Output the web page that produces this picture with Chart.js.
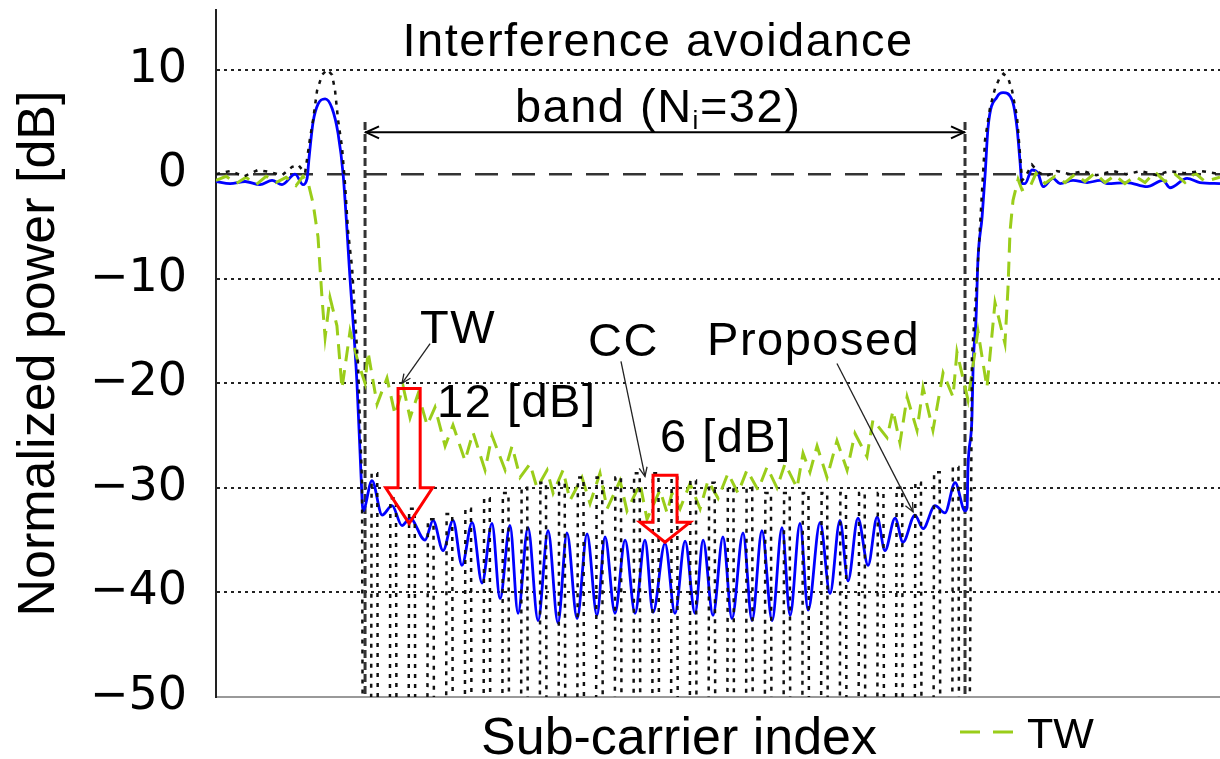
<!DOCTYPE html>
<html>
<head>
<meta charset="utf-8">
<script src="https://cdn.jsdelivr.net/npm/chart.js@4.4.1/dist/chart.umd.min.js"></script>
<style>
  html, body { margin: 0; padding: 0; background: #fff; }
  canvas { display: block; }
</style>
</head>
<body>
<canvas id="psd" width="1220" height="759"></canvas>
<script>
// sub-carrier index (0..32 = avoidance band), normalized power in dB
const proposed = [
  [-7.95,-0.7],[-7.2,-0.9],[-6.4,-0.7],[-5.6,-1.0],[-4.96,-0.6],[-4.43,-1.0],[-3.73,0.0],[-3.31,-1.0],
  [-3.09,-0.4],[-2.99,1.5],[-2.77,5.0],[-2.51,6.7],[-2.13,7.2],[-1.76,6.3],[-1.44,3.9],[-1.17,0],
  [-0.8,-10],[-0.43,-20],[-0.21,-29],[-0.11,-32.2],[0.37,-29.3],[0.91,-32.6],[1.44,-31.7],[1.97,-33.6],
  [2.4,-32.9],[3.2,-35],[3.63,-33.1],[4.16,-36],[4.69,-33.1],[5.17,-37.4],[5.71,-33.3],[6.24,-39.1],
  [6.77,-33.4],[7.2,-40.6],[7.73,-33.6],[8.16,-42],[8.69,-33.8],[9.23,-42.7],[9.76,-34.1],[10.29,-42.9],
  [10.77,-34.3],[11.31,-42.5],[11.84,-34.4],[12.37,-42.2],[12.8,-34.7],[13.33,-42],[13.87,-35],[14.4,-42],
  [14.93,-35],[15.36,-41.9],[16.0,-35.3],[16.53,-42],[17.07,-35.1],[17.6,-42],[18.03,-35],[18.56,-42.2],
  [19.09,-34.7],[19.57,-42.5],[20.16,-34.3],[20.64,-42.7],[21.17,-34.1],[21.71,-42.7],[22.24,-33.8],[22.67,-42.2],
  [23.2,-33.4],[23.63,-41.7],[24.27,-33.3],[24.8,-40.1],[25.33,-33.1],[25.76,-38.9],[26.29,-32.9],[26.83,-37.4],
  [27.31,-32.8],[27.73,-36],[28.27,-32.9],[28.69,-35.2],[29.33,-32.6],[29.76,-33.9],[30.4,-31.7],[30.93,-32.4],
  [31.47,-29.5],[32.0,-32.2],[32.11,-31.9],[32.16,-28],[32.37,-23.3],[32.43,-18.5],[32.59,-13.7],[32.69,-8.2],
  [32.91,-4.1],[33.07,-0.1],[33.23,4.5],[33.71,7.4],[34.03,7.8],[34.51,7.1],[34.77,4.5],[34.93,1.3],
  [35.04,-0.9],[35.2,-0.9],[35.57,0.4],[35.89,0.1],[36.16,-1.2],[36.69,-0.4],[37.07,-0.9],[37.76,-0.6],
  [38.51,-0.8],[39.2,-0.6],[39.57,-0.9],[40.64,-0.8],[41.71,-1.2],[42.56,-0.6],[42.93,-1.3],[43.84,-0.4],
  [44.53,-0.8],[45.6,-0.9]
];

// CC: narrow lobes inside the band, nulls fall below the axis
const cc = [
  [-7.95,0],[-7.2,0.3],[-6.45,-0.2],[-5.71,0.4],[-5.07,0.2],[-4.43,-0.1],[-3.89,0.7],[-3.57,0.9],
  [-3.2,0.1],[-2.93,3.5],[-2.77,5.2],[-2.56,8],[-2.29,9.5],[-2.03,10],[-1.76,9.5],[-1.6,8],
  [-1.44,5.2],[-1.23,2.6],[-1.07,-0.9],[-0.91,-5.4],[-0.69,-9],[-0.37,-18.5],[-0.16,-29.6],[-0.08,-90],
  [0.28,-90],[0.35,-28.6],[0.65,-28.6],[0.72,-90],
  [1.28,-90],[1.35,-31],[1.65,-31],[1.72,-90],
  [2.28,-90],[2.35,-32],[2.65,-32],[2.72,-90],
  [3.28,-90],[3.35,-33],[3.65,-33],[3.72,-90],
  [4.28,-90],[4.35,-32.5],[4.65,-32.5],[4.72,-90],
  [5.28,-90],[5.35,-32],[5.65,-32],[5.72,-90],
  [6.28,-90],[6.35,-31],[6.65,-31],[6.72,-90],
  [7.28,-90],[7.35,-30.5],[7.65,-30.5],[7.72,-90],
  [8.28,-90],[8.35,-30],[8.65,-30],[8.72,-90],
  [9.28,-90],[9.35,-29.5],[9.65,-29.5],[9.72,-90],
  [10.28,-90],[10.35,-29.5],[10.65,-29.5],[10.72,-90],
  [11.28,-90],[11.35,-29],[11.65,-29],[11.72,-90],
  [12.28,-90],[12.35,-29],[12.65,-29],[12.72,-90],
  [13.28,-90],[13.35,-29],[13.65,-29],[13.72,-90],
  [14.28,-90],[14.35,-28.6],[14.65,-28.6],[14.72,-90],
  [15.28,-90],[15.35,-28.6],[15.65,-28.6],[15.72,-90],
  [16.28,-90],[16.35,-29],[16.65,-29],[16.72,-90],
  [17.28,-90],[17.35,-29.3],[17.65,-29.3],[17.72,-90],
  [18.28,-90],[18.35,-29.5],[18.65,-29.5],[18.72,-90],
  [19.28,-90],[19.35,-30],[19.65,-30],[19.72,-90],
  [20.28,-90],[20.35,-30],[20.65,-30],[20.72,-90],
  [21.28,-90],[21.35,-30.5],[21.65,-30.5],[21.72,-90],
  [22.28,-90],[22.35,-30.5],[22.65,-30.5],[22.72,-90],
  [23.28,-90],[23.35,-30.5],[23.65,-30.5],[23.72,-90],
  [24.28,-90],[24.35,-30.5],[24.65,-30.5],[24.72,-90],
  [25.28,-90],[25.35,-30.5],[25.65,-30.5],[25.72,-90],
  [26.28,-90],[26.35,-30.5],[26.65,-30.5],[26.72,-90],
  [27.28,-90],[27.35,-30.5],[27.65,-30.5],[27.72,-90],
  [28.28,-90],[28.35,-30],[28.65,-30],[28.72,-90],
  [29.28,-90],[29.35,-29.5],[29.65,-29.5],[29.72,-90],
  [30.28,-90],[30.35,-28.5],[30.65,-28.5],[30.72,-90],
  [31.28,-90],[31.35,-28],[31.65,-28],[31.72,-90],
  [32.12,-90],[32.37,-17.5],[32.64,-9.9],[32.8,-5],[32.96,0],[33.07,3.3],[33.33,6.3],[33.6,8.2],[33.87,9.3],
  [34.05,9.6],[34.3,9.2],[34.51,8],[34.77,5.5],[34.93,2],[35.04,-0.6],[35.2,-0.3],[35.57,0.9],
  [35.9,0.2],[36.3,-0.2],[36.9,0.3],[37.6,0],[38.3,0.3],[39.0,-0.1],[39.9,0.3],[40.6,0],
  [41.4,0.3],[42.2,-0.1],[42.9,0.3],[43.7,0.1],[44.6,0.3],[45.6,0]
];

const tw = [
  [-7.95,-0.6],[-7.41,-0.2],[-6.88,-0.9],[-6.35,-0.3],[-5.81,-1.0],[-5.28,-0.2],[-4.75,-0.8],[-4.21,-0.3],
  [-3.68,-1.1],[-3.31,-0.2],[-3.04,-0.8],[-2.77,-2.8],[-2.51,-6.0],[-2.4,-9],[-2.29,-12],[-2.13,-15.6],
  [-1.87,-11.8],[-1.5,-14.5],[-1.23,-20.5],[-0.8,-15],[-0.4,-17.8],[0,-20],[0.16,-17],[0.64,-22],
  [1.17,-19.5],[1.6,-23],[2.03,-20.3],[2.4,-23.3],[2.83,-21],[3.31,-24],[3.73,-22.3],[4.27,-26],
  [4.69,-24],[5.33,-27.4],[5.76,-24.7],[6.4,-28.3],[6.77,-25],[7.47,-28.3],[7.84,-26],[8.27,-29],
  [8.8,-27.7],[9.17,-30],[9.71,-28.3],[10.03,-30.5],[10.56,-28.3],[10.93,-31.2],[11.57,-29],[12.0,-31.5],
  [12.53,-28.6],[12.91,-32],[13.6,-29.3],[13.97,-32.2],[14.67,-29.6],[15.04,-33],[15.73,-30.2],[16.11,-32.4],
  [16.37,-30.5],[16.8,-32],[17.33,-29.6],[17.87,-32],[18.29,-29.3],[18.83,-31],[19.36,-28.6],[19.89,-30.5],
  [20.37,-28.3],[20.96,-30.2],[21.44,-28],[21.97,-30],[22.4,-27.7],[23.04,-30],[23.36,-26.7],[23.73,-28.5],
  [24.11,-26],[24.64,-29],[25.17,-25.5],[25.71,-28.3],[26.13,-24.8],[26.77,-27],[27.09,-23.5],[27.84,-25.2],
  [28.16,-22.6],[28.53,-25.7],[28.91,-21.3],[29.44,-24.5],[29.76,-20.4],[30.29,-24.5],[30.83,-19],[31.36,-21.3],
  [31.57,-17],[32.16,-21.6],[32.69,-15],[33.17,-20.4],[33.6,-12.3],[34.13,-16.2],[34.29,-11],[34.4,-5.5],
  [34.56,-2.5],[34.83,-0.5],[35.04,-1.5],[35.47,-1.2],[35.79,0.1],[36.27,-0.9],[36.8,-0.2],[37.33,-0.8],
  [37.87,0],[38.4,-0.7],[38.93,0.1],[39.47,-0.8],[40.0,-0.1],[40.53,-0.9],[41.07,-0.2],[41.6,-0.8],
  [42.13,0.2],[42.67,-0.7],[43.2,0],[43.73,-0.8],[44.27,0.1],[44.8,-0.7],[45.6,-0.3]
];

const yTicks = [-50, -40, -30, -20, -10, 0, 10];
const band = [0, 32];

const FONT = "'Liberation Sans', Arial, sans-serif";
const TICK_FONT = "'DejaVu Sans', sans-serif";
const toXY = arr => arr.map(([x, y]) => ({ x, y }));

// arrows and labels, placed in data units
const notes = [
  { text: "TW", x: 2.93, y: -16.1 },
  { text: "12 [dB]", x: 3.84, y: -23.2 },
  { text: "CC", x: 11.89, y: -17.4 },
  { text: "6 [dB]", x: 15.73, y: -26.6 },
  { text: "Proposed", x: 18.24, y: -17.3 }
];
const pointers = [
  [3.47, -16.2, 1.97, -20.0],
  [13.65, -17.9, 14.93, -28.9],
  [25.17, -18.1, 29.23, -32.3]
];
const gains = [
  { x: 2.35, top: -20.5, neck: -30.0, tip: -33.4, shaft: 0.59, head: 1.25 },
  { x: 16.0, top: -28.8, neck: -33.3, tip: -35.2, shaft: 0.64, head: 1.33 }
];

function head(ctx, x1, y1, x2, y2, len, half) {
  const a = Math.atan2(y2 - y1, x2 - x1);
  const c = Math.cos(a), s = Math.sin(a);
  ctx.beginPath();
  ctx.moveTo(x2 - len * c + half * s, y2 - len * s - half * c);
  ctx.lineTo(x2, y2);
  ctx.lineTo(x2 - len * c - half * s, y2 - len * s + half * c);
  ctx.stroke();
}

const decorations = {
  id: "decorations",
  beforeDatasetsDraw(chart) {
    const { ctx, chartArea: a, scales: { x, y } } = chart;
    ctx.save();
    // 0 dB reference
    ctx.strokeStyle = "#333";
    ctx.lineWidth = 2.5;
    ctx.setLineDash([23, 14]);
    const y0 = y.getPixelForValue(0);
    ctx.beginPath();
    ctx.moveTo(a.left, y0);
    ctx.lineTo(a.right, y0);
    ctx.stroke();
    // band edges
    ctx.lineWidth = 3;
    ctx.setLineDash([8, 4]);
    band.forEach(b => {
      const px = x.getPixelForValue(b);
      ctx.beginPath();
      ctx.moveTo(px, y.getPixelForValue(5));
      ctx.lineTo(px, a.bottom);
      ctx.stroke();
    });
    ctx.restore();
  },
  afterDatasetsDraw(chart) {
    const { ctx, scales: { x, y } } = chart;
    const px = v => x.getPixelForValue(v);
    const py = v => y.getPixelForValue(v);
    ctx.save();
    ctx.fillStyle = "#000";
    ctx.strokeStyle = "#000";
    ctx.textBaseline = "alphabetic";
    ctx.letterSpacing = "1.5px";

    // band title
    ctx.font = "47px " + FONT;
    ctx.textAlign = "center";
    ctx.fillText("Interference avoidance", px(15.63), py(11.3));
    const parts = [["band (N", 47, 0], ["i", 26, 7], ["=32)", 47, 0]];
    let total = 0;
    parts.forEach(p => { ctx.font = p[1] + "px " + FONT; total += ctx.measureText(p[0]).width; });
    let cx = px(15.63) - total / 2;
    ctx.textAlign = "left";
    parts.forEach(p => {
      ctx.font = p[1] + "px " + FONT;
      ctx.fillText(p[0], cx, py(5.0) + p[2]);
      cx += ctx.measureText(p[0]).width;
    });

    // double arrow across the band
    const ya = py(4.0);
    ctx.lineWidth = 2;
    ctx.beginPath();
    ctx.moveTo(px(band[0]), ya);
    ctx.lineTo(px(band[1]), ya);
    ctx.stroke();
    head(ctx, px(band[1]), ya, px(band[0]) + 1, ya, 13, 6);
    head(ctx, px(band[0]), ya, px(band[1]) - 1, ya, 13, 6);

    // labels + pointers
    ctx.font = "47px " + FONT;
    notes.forEach(n => ctx.fillText(n.text, px(n.x), py(n.y)));
    ctx.lineWidth = 1.3;
    ctx.strokeStyle = "#222";
    pointers.forEach(([x1, y1, x2, y2]) => {
      ctx.beginPath();
      ctx.moveTo(px(x1), py(y1));
      ctx.lineTo(px(x2), py(y2));
      ctx.stroke();
      head(ctx, px(x1), py(y1), px(x2), py(y2), 9, 4);
    });

    // hollow red gain arrows
    ctx.strokeStyle = "#ff0000";
    ctx.lineWidth = 3;
    ctx.lineJoin = "miter";
    gains.forEach(g => {
      ctx.beginPath();
      ctx.moveTo(px(g.x - g.shaft), py(g.top));
      ctx.lineTo(px(g.x + g.shaft), py(g.top));
      ctx.lineTo(px(g.x + g.shaft), py(g.neck));
      ctx.lineTo(px(g.x + g.head), py(g.neck));
      ctx.lineTo(px(g.x), py(g.tip));
      ctx.lineTo(px(g.x - g.head), py(g.neck));
      ctx.lineTo(px(g.x - g.shaft), py(g.neck));
      ctx.closePath();
      ctx.stroke();
    });

    // x title
    ctx.letterSpacing = "0px";
    ctx.fillStyle = "#000";
    ctx.font = "52px " + FONT;
    ctx.textAlign = "center";
    ctx.fillText("Sub-carrier index", 679, 754);

    // legend entry (TW)
    ctx.strokeStyle = "#9acd1a";
    ctx.lineWidth = 3;
    ctx.setLineDash([20, 13]);
    ctx.beginPath();
    ctx.moveTo(960, 732);
    ctx.lineTo(1013, 732);
    ctx.stroke();
    ctx.setLineDash([]);
    ctx.font = "43px " + FONT;
    ctx.textAlign = "left";
    ctx.fillText("TW", 1027, 748);
    ctx.restore();
  }
};

new Chart(document.getElementById("psd"), {
  type: "line",
  data: {
    datasets: [
      {
        label: "CC",
        data: toXY(cc),
        borderColor: "#111",
        borderWidth: 2.5,
        borderDash: [4, 6],
        pointRadius: 0,
        tension: 0
      },
      {
        label: "TW",
        data: toXY(tw),
        borderColor: "#9acd1a",
        borderWidth: 3,
        borderDash: [15, 9],
        pointRadius: 0,
        tension: 0
      },
      {
        label: "Proposed",
        data: toXY(proposed),
        borderColor: "#0000ff",
        borderWidth: 2.8,
        pointRadius: 0,
        cubicInterpolationMode: "monotone"
      }
    ]
  },
  options: {
    responsive: false,
    animation: false,
    events: [],
    layout: { padding: { top: 10, left: 0, right: 0, bottom: 0 } },
    plugins: {
      legend: { display: false },
      tooltip: { enabled: false }
    },
    scales: {
      x: {
        type: "linear",
        min: -7.95,
        max: 45.6,
        ticks: { display: false },
        grid: { display: false },
        border: { color: "#999", width: 2 },
        afterFit: s => { s.height = 62; }
      },
      y: {
        type: "linear",
        min: -50,
        max: 15.7,
        afterBuildTicks: s => { s.ticks = yTicks.map(v => ({ value: v })); },
        ticks: {
          includeBounds: false,
          padding: 29,
          color: "#000",
          font: { family: TICK_FONT, size: 46 },
          callback: v => (v < 0 ? "\u2212" + Math.abs(v) : String(v))
        },
        grid: {
          drawTicks: false,
          lineWidth: 2,
          color: c => (c.tick && (c.tick.value === 0 || c.tick.value === -50) ? "rgba(0,0,0,0)" : "#222")
        },
        border: { color: "#222", width: 2, dash: [3, 4] },
        title: {
          display: true,
          text: "Normalized power [dB]",
          color: "#000",
          font: { family: FONT, size: 52 },
          padding: { top: 8, bottom: 0 }
        },
        afterFit: s => { s.width = 216; s.paddingTop = 0; s.paddingBottom = 0; }
      }
    }
  },
  plugins: [decorations]
});
</script>
</body>
</html>
